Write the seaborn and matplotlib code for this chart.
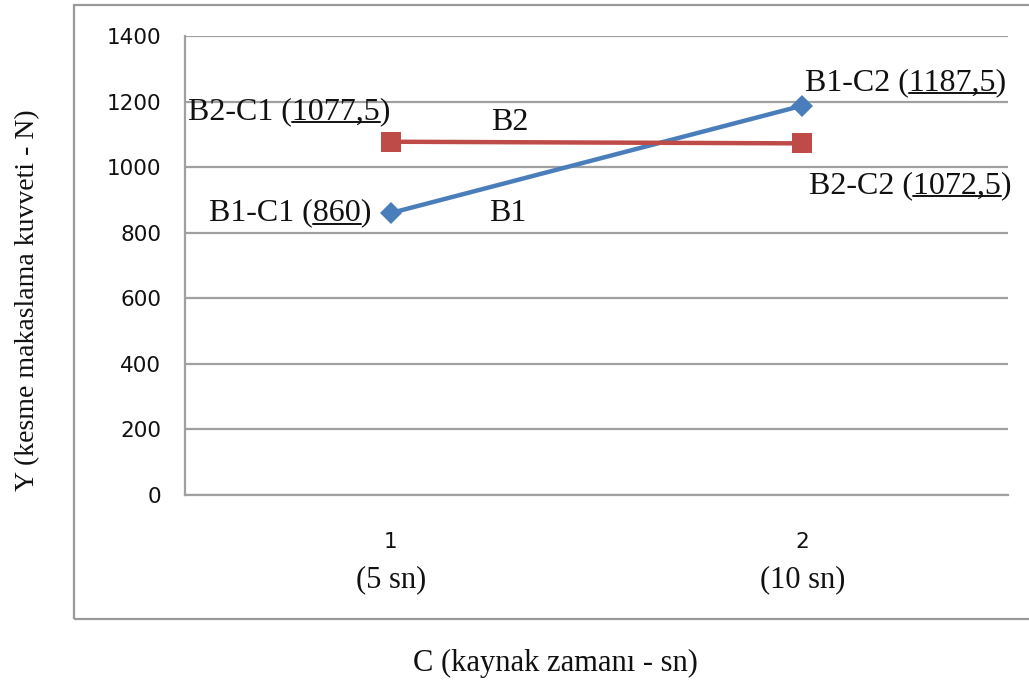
import matplotlib
matplotlib.use("Agg")
import matplotlib.pyplot as plt
import seaborn as sns
import pandas as pd
from matplotlib.patches import Rectangle
from matplotlib.lines import Line2D

# ---- data ----
categories = ["1", "2"]
category_sub = ["(5 sn)", "(10 sn)"]
series_names = ["B1", "B2"]
b1_values = [860, 1187.5]
b2_values = [1077.5, 1072.5]
y_ticks = [0, 200, 400, 600, 800, 1000, 1200, 1400]
point_labels_b1 = ["B1-C1 (", "B1-C2 ("]
point_labels_b2 = ["B2-C1 (", "B2-C2 ("]
value_text_b1 = ["860", "1187,5"]
value_text_b2 = ["1077,5", "1072,5"]
y_label = "Y (kesme makaslama kuvveti - N)"
x_label = "C (kaynak zamanı - sn)"

df = pd.DataFrame({
    "C": categories * 2,
    "Y": b1_values + b2_values,
    "B": [series_names[0]] * 2 + [series_names[1]] * 2,
})

sns.set_theme(style="white")
plt.rcParams["font.family"] = ["DejaVu Sans"]

W, H = 1029, 688
fig = plt.figure(figsize=(W / 100, H / 100), dpi=100)
ax = fig.add_axes([185 / W, 1 - 495 / H, (1008 - 185) / W, (495 - 36) / H])

blue = "#4A7EBB"
red = "#BE4B48"
sns.lineplot(data=df, x="C", y="Y", hue="B", style="B",
             palette={"B1": blue, "B2": red},
             markers={"B1": "D", "B2": "s"}, dashes=False,
             linewidth=3.2, markersize=12, markeredgewidth=0,
             legend=False, ax=ax, sort=False)
for line in ax.lines:
    if line.get_marker() == "s":
        line.set_markersize(14)
    else:
        line.set_markersize(11)

ax.set_xlim(-0.5, 1.5)
ax.set_ylim(0, 1400)
ax.set_yticks(y_ticks)
ax.set_yticklabels([str(v) for v in y_ticks])
ax.set_xticks(range(len(categories)))
ax.set_xticklabels(categories)
ax.tick_params(axis="both", length=0, labelsize=15.5, colors="#111111")
ax.tick_params(axis="y", pad=17)
ax.tick_params(axis="x", pad=27)
ax.set_xlabel("")
ax.set_ylabel("")
ax.grid(axis="y", color="#a0a0a0", linewidth=1.6)
ax.set_axisbelow(True)
for s in ["top", "right"]:
    ax.spines[s].set_visible(False)
for s in ["left", "bottom"]:
    ax.spines[s].set_color("#a0a0a0")
    ax.spines[s].set_linewidth(1.6)

serif = ["Liberation Serif", "DejaVu Serif"]
fs = 23

for i, sub in enumerate(category_sub):
    ax.text(i, -0.185, sub, transform=ax.get_xaxis_transform(), ha="center",
            va="center", fontsize=22, family=serif, color="#111111")

# outer chart box
fig.patches.append(Rectangle((74 / W, 1 - 619 / H), 1.0, (619 - 5) / H,
                             transform=fig.transFigure, fill=False,
                             edgecolor="#9a9a9a", linewidth=1.6, clip_on=False))

fig.text(28 / W, 1 - 300 / H, y_label, rotation=90, ha="center", va="center",
         fontsize=20, family=serif, color="#111111")
fig.text(555 / W, 1 - 663 / H, x_label, ha="center", va="center",
         fontsize=22, family=serif, color="#111111")

# point labels
ann = []
specs = [
    (0, b2_values[0], point_labels_b2[0], value_text_b2[0], (0, 30), "right"),
    (0, b1_values[0], point_labels_b1[0], value_text_b1[0], (-19, 0), "right"),
    (1, b1_values[1], point_labels_b1[1], value_text_b1[1], (3, 23), "left"),
    (1, b2_values[1], point_labels_b2[1], value_text_b2[1], (7, -42), "left"),
]
for x, y, pre, num, off, ha in specs:
    t = ax.annotate(pre + num + ")", (x, y), xytext=off, textcoords="offset pixels",
                    ha=ha, va="center", fontsize=fs, family=serif, color="#111111",
                    annotation_clip=False)
    ann.append((t, pre, num))

ax.text(0.29, 1135, series_names[1], ha="center", va="center", fontsize=fs,
        family=serif, color="#111111")
ax.text(0.285, 860, series_names[0], ha="center", va="center", fontsize=fs,
        family=serif, color="#111111")

# underline the numeric values
fig.canvas.draw()
renderer = fig.canvas.get_renderer()
inv = fig.transFigure.inverted()
for t, pre, num in ann:
    bb = t.get_window_extent(renderer)
    prop = t.get_fontproperties()
    w_pre, _, _ = renderer.get_text_width_height_descent(pre, prop, ismath=False)
    w_num, _, _ = renderer.get_text_width_height_descent(num, prop, ismath=False)
    _, _, d_full = renderer.get_text_width_height_descent(pre + num + ")", prop, ismath=False)
    base = bb.y0 + d_full
    x0 = bb.x0 + w_pre
    x1 = x0 + w_num
    yl = base - 3
    p0 = inv.transform((x0, yl))
    p1 = inv.transform((x1, yl))
    fig.lines.append(Line2D([p0[0], p1[0]], [p0[1], p1[1]], transform=fig.transFigure,
                            color="#111111", linewidth=1.4))

fig.savefig("out.png", dpi=100)
